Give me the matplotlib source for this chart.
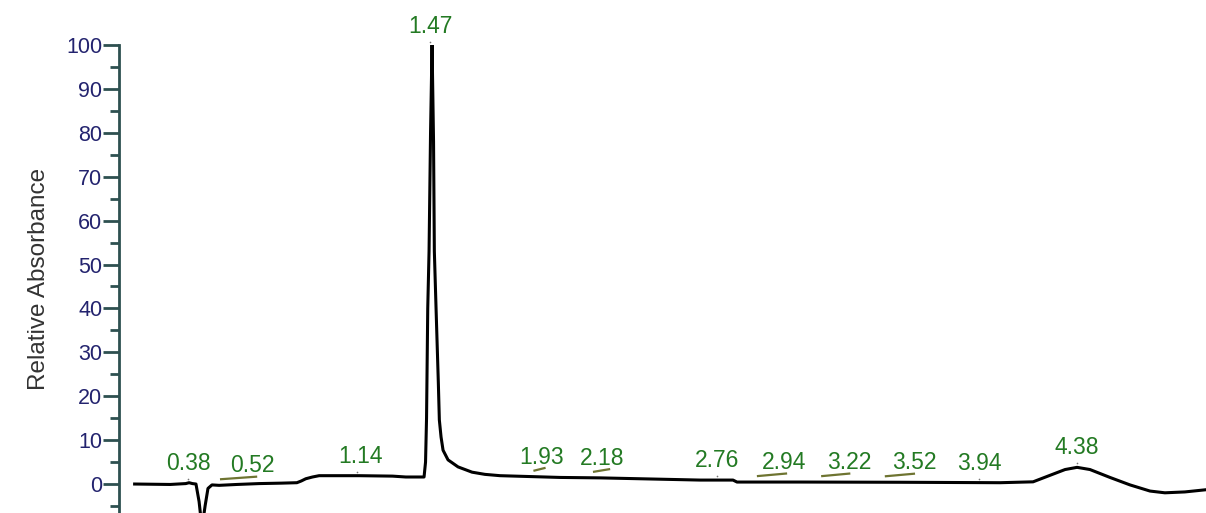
import numpy as np
import matplotlib
matplotlib.use("Agg")
import matplotlib.pyplot as plt
from matplotlib.transforms import offset_copy

# ---- data (retention time in min, relative absorbance) ----
time = [0.14, 0.30, 0.37, 0.385, 0.40, 0.416, 0.43, 0.443, 0.457, 0.47, 0.488,
        0.52, 0.60, 0.70, 0.80, 0.87, 0.89, 0.91, 0.94, 0.97, 1.01, 1.15, 1.30,
        1.36, 1.4421, 1.4488, 1.4533, 1.4587, 1.4646, 1.4713, 1.4781, 1.4848,
        1.4884, 1.4961, 1.5064, 1.5109, 1.5186, 1.5276, 1.55, 1.595, 1.658,
        1.716, 1.784, 2.054, 2.234, 2.414, 2.684, 2.832, 2.85, 3.134, 3.584,
        4.034, 4.182, 4.259, 4.326, 4.38, 4.438, 4.528, 4.618, 4.708, 4.775,
        4.865, 4.96]
absorb = [0.0, -0.1, 0.1, 0.3, 0.1, 0.0, -4.0, -10.0, -5.0, -1.0, -0.2,
          -0.3, -0.1, 0.1, 0.2, 0.3, 0.7, 1.2, 1.6, 1.9, 1.9, 1.9, 1.8,
          1.6, 1.6, 5.0, 15.0, 40.0, 53.0, 80.0, 100.0, 78.0,
          53.0, 40.0, 23.0, 14.6, 10.7, 7.7, 5.5, 3.9, 2.7,
          2.2, 1.9, 1.5, 1.4, 1.2, 0.9, 0.9, 0.45, 0.45, 0.4,
          0.3, 0.5, 2.0, 3.3, 3.8, 3.3, 1.5, -0.2, -1.6, -2.0,
          -1.8, -1.3]

peak_times = [0.38, 0.52, 1.14, 1.47, 1.93, 2.18, 2.76, 2.94, 3.22, 3.52, 3.94, 4.38]
peak_labels = ["0.38", "0.52", "1.14", "1.47", "1.93", "2.18", "2.76", "2.94",
               "3.22", "3.52", "3.94", "4.38"]
underlined = [False, True, False, False, True, True, False, True, True, True, False, False]

y_ticks = list(range(0, 101, 10))
y_minor = list(range(-5, 100, 10))

# ---- style ----
label_dx = [0, 33, 4, 0, 9, 14, 0, 27, 30, 28, 0, 0]   # label x offset (pixels)
ul_span = [(0, 0), (2, 37), (0, 0), (0, 0), (2, 12), (6, 21), (0, 0),
           (1, 29), (3, 30), (0, 28), (0, 0), (0, 0)]

W, H = 1206, 513
fig = plt.figure(figsize=(W / 100, H / 100), dpi=100)
ax = fig.add_axes([119 / W, 0.0, 1 - 119 / W, 1 - 45 / H])

ax.plot(time, absorb, color="black", lw=2.2, solid_joinstyle="round", zorder=3)
ax.set_xlim(0.0697, 4.96)
ax.set_ylim(-6.6, 100)

for s in ["top", "right", "bottom"]:
    ax.spines[s].set_visible(False)
ax.spines["left"].set_color("#2e5050")
ax.spines["left"].set_linewidth(2.0)
ax.set_xticks([])
ax.set_yticks(y_ticks)
ax.set_yticks(y_minor, minor=True)
ax.tick_params(axis="y", which="major", length=11.5, width=2, color="#2e5050",
               labelsize=15.5, labelcolor="#23236e", pad=0.5)
ax.tick_params(axis="y", which="minor", length=6.5, width=2, color="#2e5050")
for lab in ax.get_yticklabels():
    lab.set_fontfamily("Liberation Sans")
ax.set_ylabel("Relative Absorbance", fontsize=17.5, family="Liberation Sans",
              color="#333333", labelpad=12)

green = "#237a23"
olive = "#6e7431"
for t, lab, dx, ul, span in zip(peak_times, peak_labels, label_dx, underlined, ul_span):
    v = float(np.max(np.interp(np.linspace(t - 0.01, t + 0.01, 41), time, absorb)))
    ax.annotate(lab, xy=(t, v), xytext=(dx, 8), textcoords="offset pixels",
                ha="center", va="bottom", fontsize=16.5, color=green,
                family="Liberation Sans", annotation_clip=False)
    if ul:
        p = ax.transData.transform((t, v))
        a = ax.transData.inverted().transform((p[0] + span[0], p[1] + 6))
        b = ax.transData.inverted().transform((p[0] + span[1], p[1] + 8.5))
        ax.plot([a[0], b[0]], [a[1], b[1]], color=olive, lw=1.6, clip_on=False)
    else:
        tr = offset_copy(ax.transData, fig=fig, x=0, y=4, units="dots")
        ax.plot([t], [v], marker="o", ms=1.2, color="#777777", mew=0,
                transform=tr, clip_on=False, zorder=4)

fig.savefig("out.png", dpi=100)
